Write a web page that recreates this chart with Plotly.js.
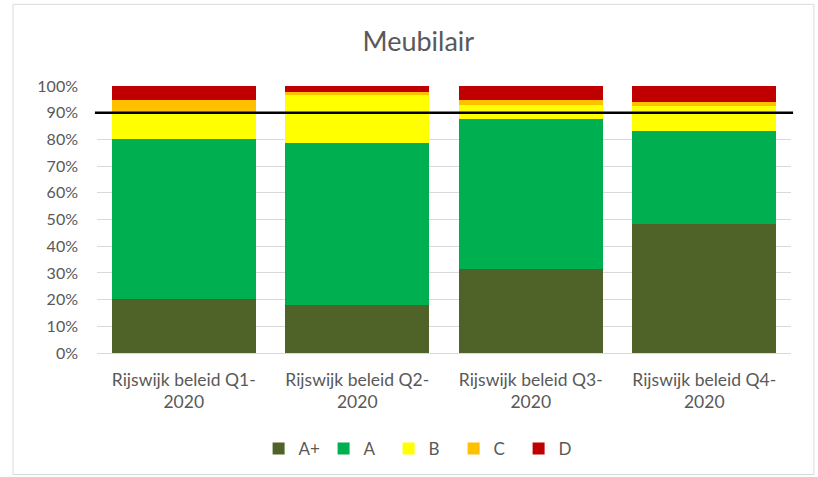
<!DOCTYPE html>
<html>
<head>
<meta charset="utf-8">
<script src="https://cdn.plot.ly/plotly-3.0.1.min.js"></script>
<style>html,body{margin:0;padding:0;background:#fff;}#chart{width:818px;height:477px;}</style>
</head>
<body>
<div id="chart"></div>
<script>
var categories = ["Rijswijk beleid Q1-<br>2020", "Rijswijk beleid Q2-<br>2020", "Rijswijk beleid Q3-<br>2020", "Rijswijk beleid Q4-<br>2020"];
var seriesNames = ["A+", "A", "B", "C", "D"];
var valuesAplus = [0.201, 0.179, 0.313, 0.485];
var valuesA     = [0.600, 0.609, 0.565, 0.347];
var valuesB     = [0.102, 0.178, 0.051, 0.093];
var valuesC     = [0.044, 0.012, 0.018, 0.016];
var valuesD     = [0.053, 0.022, 0.053, 0.059];
var targetLine = 0.9;
var colors = ["#4f6228", "#00b050", "#ffff00", "#ffc000", "#c00000"];

var allValues = [valuesAplus, valuesA, valuesB, valuesC, valuesD];
var font = "Lato, Liberation Sans, sans-serif";
var traces = seriesNames.map(function (name, i) {
  return {
    type: "bar",
    name: name,
    x: categories,
    y: allValues[i],
    width: 0.83,
    marker: {color: colors[i], line: {width: 0}},
    hoverinfo: "x+y+name"
  };
});

var layout = {
  width: 818, height: 477,
  margin: {l: 97, r: 27, t: 86, b: 123},
  paper_bgcolor: "#ffffff", plot_bgcolor: "#ffffff",
  barmode: "stack",
  title: {text: "Meubilair", font: {family: font, size: 27, color: "#595959"}, x: 0.463, xanchor: "center", xref: "paper", y: 0.912, yanchor: "middle"},
  font: {family: font, color: "#595959"},
  xaxis: {
    showgrid: false, zeroline: false, showline: false,
    tickfont: {family: font, size: 17.5, color: "#595959"},
    ticks: "", ticklabelstandoff: 14
  },
  yaxis: {
    range: [0, 1], dtick: 0.1, tickformat: ".0%",
    showgrid: true, gridcolor: "#d9d9d9", gridwidth: 1,
    zeroline: true, zerolinecolor: "#d9d9d9", zerolinewidth: 1,
    showline: false, ticks: "", ticklen: 0, ticklabelstandoff: 18,
    tickfont: {family: font, size: 16, color: "#595959"}
  },
  legend: {
    orientation: "h", traceorder: "normal",
    x: 0.467, xanchor: "center", y: -0.354, yanchor: "middle",
    font: {family: font, size: 17, color: "#595959"},
    itemwidth: 30, entrywidth: 20
  },
  shapes: [
    {type: "line", xref: "paper", yref: "y", x0: -0.003, x1: 1.003, y0: targetLine, y1: targetLine,
     line: {color: "#000000", width: 2.5}},
    {type: "rect", xref: "paper", yref: "paper", x0: -0.121, x1: 1.033, y0: -0.455, y1: 1.306,
     line: {color: "#d9d9d9", width: 1}, layer: "below"}
  ],
  showlegend: true
};

Plotly.newPlot("chart", traces, layout, {displayModeBar: false, staticPlot: true});
</script>
</body>
</html>
